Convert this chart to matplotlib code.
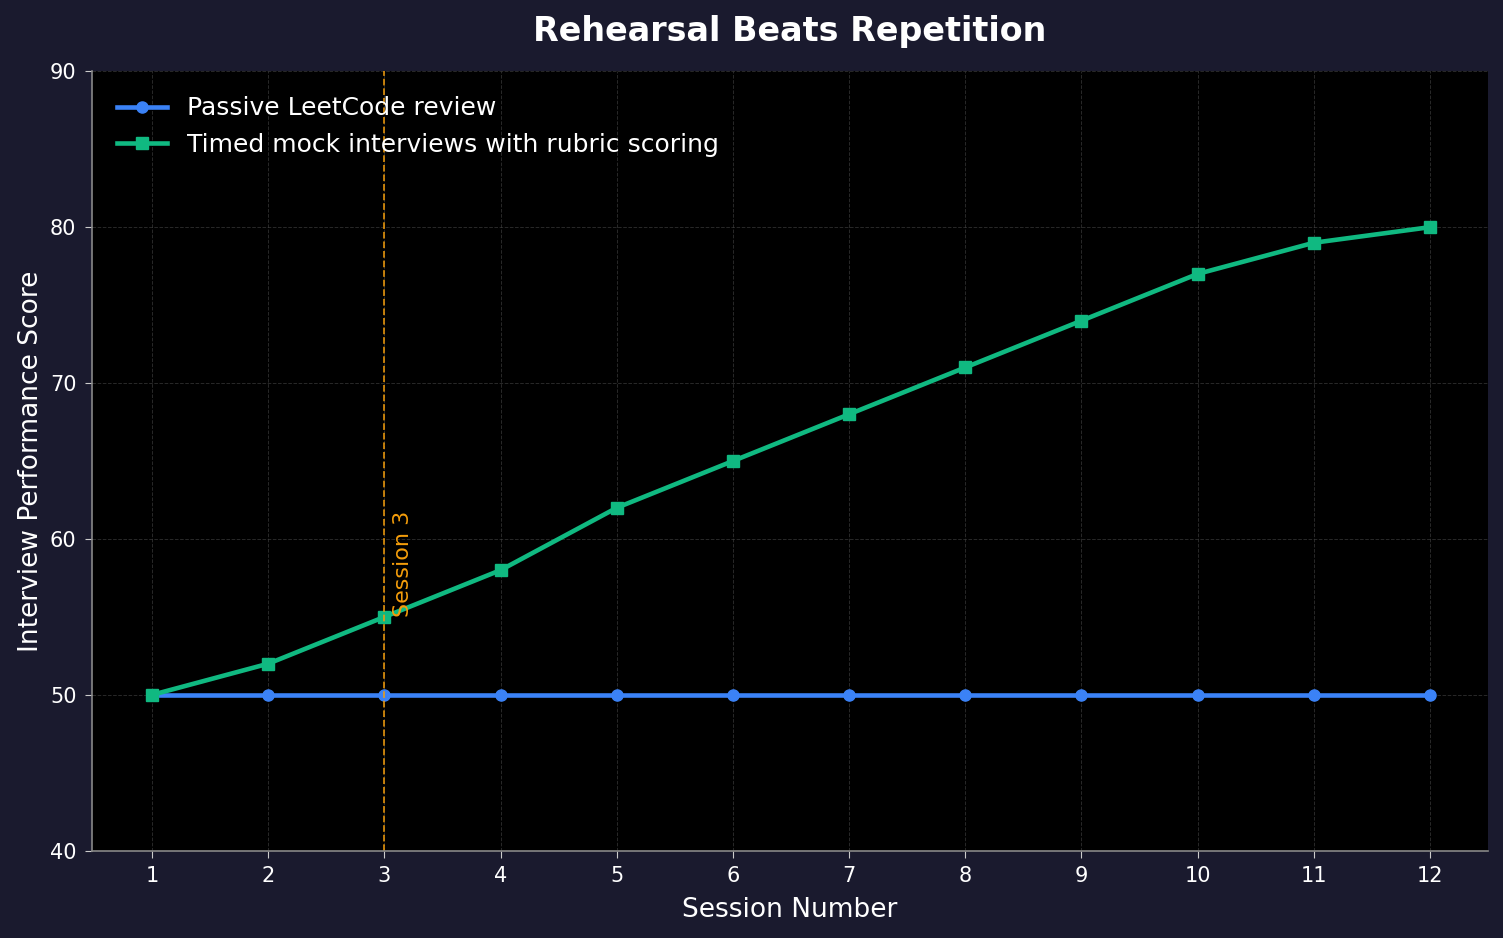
import matplotlib.pyplot as plt
import numpy as np

sessions = [1, 2, 3, 4, 5, 6, 7, 8, 9, 10, 11, 12]
passive = [50, 50, 50, 50, 50, 50, 50, 50, 50, 50, 50, 50]
mock = [50, 52, 55, 58, 62, 65, 68, 71, 74, 77, 79, 80]
marker_session = 3

bg = '#1a1a2e'
fig = plt.figure(figsize=(15.03, 9.38), dpi=100, facecolor=bg)
ax = fig.add_axes([0.061, 0.093, 0.929, 0.831])
ax.set_facecolor('black')

ax.plot(sessions, passive, color='#3b82f6', lw=3.3, marker='o', ms=8, label='Passive LeetCode review')
ax.plot(sessions, mock, color='#10b981', lw=3.3, marker='s', ms=8, label='Timed mock interviews with rubric scoring')

ax.axvline(marker_session, color='#f59e0b', ls='--', lw=1.3, alpha=0.85)
ax.text(marker_session + 0.07, 55, 'Session 3', rotation=90, color='#f59e0b',
        fontsize=16, ha='left', va='bottom')

ax.set_xlim(0.48, 12.5)
ax.set_ylim(40, 90)
ax.set_xticks(sessions)
ax.set_yticks(np.arange(40, 91, 10))
ax.grid(True, color='#444444', ls='--', lw=0.7, alpha=0.6)

for s in ['top', 'right']:
    ax.spines[s].set_visible(False)
for s in ['left', 'bottom']:
    ax.spines[s].set_color('#888888')
    ax.spines[s].set_linewidth(1.2)
ax.tick_params(colors='white', labelsize=15, length=5, pad=6)
ax.tick_params(axis='both', color='#cccccc')

ax.set_xlabel('Session Number', color='white', fontsize=19, labelpad=8)
ax.set_ylabel('Interview Performance Score', color='white', fontsize=19, labelpad=4)
ax.set_title('Rehearsal Beats Repetition', color='white', fontsize=24, fontweight='bold', pad=22)

leg = ax.legend(loc='upper left', fontsize=18, frameon=False, borderaxespad=0.6)
for t in leg.get_texts():
    t.set_color('white')

fig.savefig('out.png', dpi=100, facecolor=bg)
